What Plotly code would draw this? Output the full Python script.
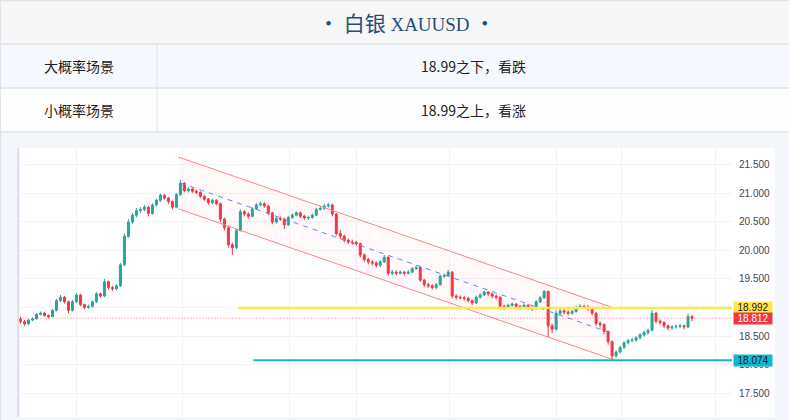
import plotly.graph_objects as go

# ---------------- data ----------------
title_text = "白银"
symbol = "XAUUSD"
row_labels = ["大概率场景", "小概率场景"]
row_values = ["18.99之下，看跌", "18.99之上，看涨"]

opens = [
18.80, 18.75, 18.71, 18.78, 18.80, 18.88, 18.90, 18.86, 18.84, 18.95,
19.12, 19.18, 19.10, 18.95, 19.10, 19.22, 19.05, 19.00, 19.02, 19.10,
19.24, 19.20, 19.45, 19.35, 19.33, 19.38, 19.75, 20.25, 20.50, 20.62,
20.70, 20.72, 20.76, 20.65, 20.80, 20.88, 20.97, 20.92, 20.86, 20.76,
20.98, 21.18, 21.05, 21.08, 21.04, 21.02, 20.95, 20.90, 20.84, 20.88,
20.82, 20.55, 20.40, 20.10, 20.05, 20.35, 20.68, 20.64, 20.60, 20.73,
20.80, 20.82, 20.78, 20.66, 20.50, 20.56, 20.55, 20.45, 20.58, 20.62,
20.66, 20.60, 20.57, 20.58, 20.62, 20.72, 20.74, 20.78, 20.80, 20.64,
20.30, 20.25, 20.18, 20.15, 20.14, 20.12, 19.92, 19.84, 19.80, 19.78,
19.74, 19.80, 19.88, 19.60, 19.62, 19.60, 19.62, 19.60, 19.62, 19.68,
19.70, 19.48, 19.40, 19.38, 19.35, 19.40, 19.55, 19.56, 19.62, 19.20,
19.18, 19.17, 19.16, 19.12, 19.08, 19.18, 19.22, 19.27, 19.24, 19.20,
19.18, 19.02, 19.00, 19.04, 19.06, 19.02, 19.00, 19.04, 19.00, 18.98,
19.10, 19.17, 19.28, 18.68, 18.62, 18.90, 18.94, 18.92, 18.90, 18.93,
19.00, 19.02, 19.01, 18.98, 18.90, 18.72, 18.70, 18.58, 18.40, 18.15,
18.22, 18.30, 18.38, 18.42, 18.43, 18.47, 18.52, 18.56, 18.60, 18.90,
18.76, 18.74, 18.68, 18.64, 18.66, 18.67, 18.68, 18.66, 18.84,
]
closes = [
18.75, 18.71, 18.78, 18.80, 18.88, 18.90, 18.86, 18.84, 18.95, 19.12,
19.18, 19.10, 18.95, 19.10, 19.22, 19.05, 19.00, 19.02, 19.10, 19.24,
19.20, 19.45, 19.35, 19.33, 19.38, 19.75, 20.25, 20.50, 20.62, 20.70,
20.72, 20.76, 20.65, 20.80, 20.88, 20.97, 20.92, 20.86, 20.76, 20.98,
21.18, 21.05, 21.08, 21.04, 21.02, 20.95, 20.90, 20.84, 20.88, 20.82,
20.55, 20.40, 20.10, 20.05, 20.35, 20.68, 20.64, 20.60, 20.73, 20.80,
20.82, 20.78, 20.66, 20.50, 20.56, 20.55, 20.45, 20.58, 20.62, 20.66,
20.60, 20.57, 20.58, 20.62, 20.72, 20.74, 20.78, 20.80, 20.64, 20.30,
20.25, 20.18, 20.15, 20.14, 20.12, 19.92, 19.84, 19.80, 19.78, 19.74,
19.80, 19.88, 19.60, 19.62, 19.60, 19.62, 19.60, 19.62, 19.68, 19.70,
19.48, 19.40, 19.38, 19.35, 19.40, 19.55, 19.56, 19.62, 19.20, 19.18,
19.17, 19.16, 19.12, 19.08, 19.18, 19.22, 19.27, 19.24, 19.20, 19.18,
19.02, 19.00, 19.04, 19.06, 19.02, 19.00, 19.04, 19.00, 18.98, 19.10,
19.17, 19.28, 18.68, 18.62, 18.90, 18.94, 18.92, 18.90, 18.93, 19.00,
19.02, 19.01, 18.98, 18.90, 18.72, 18.70, 18.58, 18.40, 18.15, 18.22,
18.30, 18.38, 18.42, 18.43, 18.47, 18.52, 18.56, 18.60, 18.90, 18.76,
18.74, 18.68, 18.64, 18.66, 18.67, 18.68, 18.66, 18.84, 18.81,
]
highs = [
18.84, 18.78, 18.80, 18.83, 18.90, 18.93, 18.92, 18.88, 18.97, 19.15,
19.22, 19.20, 19.12, 19.13, 19.25, 19.24, 19.07, 19.05, 19.12, 19.27,
19.26, 19.50, 19.47, 19.38, 19.41, 19.78, 20.30, 20.55, 20.66, 20.74,
20.76, 20.80, 20.78, 20.83, 20.91, 21.00, 20.99, 20.94, 20.88, 21.01,
21.24, 21.20, 21.11, 21.10, 21.07, 21.04, 20.97, 20.92, 20.91, 20.90,
20.84, 20.58, 20.43, 20.14, 20.38, 20.72, 20.71, 20.67, 20.76, 20.83,
20.86, 20.85, 20.80, 20.68, 20.59, 20.60, 20.58, 20.61, 20.65, 20.69,
20.68, 20.63, 20.61, 20.65, 20.75, 20.78, 20.82, 20.84, 20.82, 20.66,
20.36, 20.28, 20.21, 20.19, 20.17, 20.14, 19.95, 19.87, 19.83, 19.81,
19.83, 19.92, 19.90, 19.66, 19.65, 19.65, 19.64, 19.66, 19.71, 19.74,
19.72, 19.50, 19.43, 19.41, 19.43, 19.58, 19.60, 19.66, 19.64, 19.23,
19.21, 19.20, 19.19, 19.14, 19.21, 19.25, 19.30, 19.29, 19.26, 19.23,
19.20, 19.05, 19.07, 19.09, 19.08, 19.04, 19.07, 19.06, 19.03, 19.13,
19.20, 19.31, 19.30, 18.72, 18.95, 18.98, 18.97, 18.95, 18.96, 19.03,
19.06, 19.05, 19.04, 19.00, 18.92, 18.76, 18.72, 18.60, 18.42, 18.25,
18.33, 18.41, 18.45, 18.47, 18.50, 18.55, 18.59, 18.63, 18.96, 18.92,
18.79, 18.76, 18.70, 18.69, 18.70, 18.71, 18.70, 18.90, 18.87,
]
lows = [
18.72, 18.68, 18.70, 18.76, 18.79, 18.86, 18.84, 18.81, 18.83, 18.93,
19.10, 19.07, 18.90, 18.93, 19.08, 19.02, 18.97, 18.98, 19.00, 19.08,
19.17, 19.18, 19.31, 19.29, 19.30, 19.36, 19.72, 20.22, 20.46, 20.58,
20.66, 20.69, 20.60, 20.63, 20.77, 20.85, 20.89, 20.82, 20.72, 20.74,
20.96, 21.02, 21.02, 21.01, 20.99, 20.92, 20.87, 20.80, 20.81, 20.79,
20.50, 20.35, 20.05, 19.92, 20.02, 20.33, 20.60, 20.56, 20.58, 20.71,
20.77, 20.75, 20.62, 20.46, 20.47, 20.52, 20.38, 20.43, 20.55, 20.60,
20.57, 20.54, 20.54, 20.56, 20.60, 20.70, 20.71, 20.75, 20.60, 20.26,
20.20, 20.14, 20.11, 20.10, 20.08, 19.88, 19.80, 19.76, 19.74, 19.70,
19.71, 19.78, 19.56, 19.57, 19.57, 19.58, 19.56, 19.58, 19.60, 19.66,
19.45, 19.36, 19.34, 19.31, 19.32, 19.38, 19.52, 19.54, 19.16, 19.14,
19.14, 19.12, 19.09, 19.04, 19.06, 19.15, 19.20, 19.20, 19.16, 19.14,
18.98, 18.96, 18.98, 19.01, 18.99, 18.96, 18.97, 18.97, 18.94, 18.96,
19.08, 19.15, 18.48, 18.55, 18.60, 18.87, 18.88, 18.86, 18.87, 18.91,
18.97, 18.98, 18.94, 18.86, 18.68, 18.65, 18.53, 18.35, 18.08, 18.12,
18.19, 18.27, 18.35, 18.39, 18.40, 18.44, 18.49, 18.53, 18.58, 18.72,
18.70, 18.64, 18.60, 18.61, 18.63, 18.64, 18.62, 18.64, 18.76,
]
bar_index = list(range(len(closes)))

y_ticks = [17.5, 18.0, 18.5, 19.0, 19.5, 20.0, 20.5, 21.0, 21.5]

# drawn levels / channel (price, bar-index values)
resistance = 18.992
support = 18.074
last_price = 18.812
resistance_start = 54.5
support_start = 58.25
channel_x = [39.5, 148.5]
channel_upper = [21.64, 18.99]
channel_lower = [20.73, 18.08]
channel_mid_x = [40.0, 148.5]
channel_mid = [21.185, 18.535]

# ---------------- style / layout ----------------
W, H = 789, 420
X_RANGE = [-0.25, 178.0]
Y_RANGE = [17.079, 21.798]
GRID_X = [14, 40.5, 67.25, 84, 107.25, 134, 150.25, 173.75]
UP, DOWN = "#26a69a", "#f23645"


def px(x):
    return x / W


def py(y):
    return 1 - y / H


fig = go.Figure()

fig.add_trace(go.Scatter(x=channel_x, y=channel_lower, mode="lines",
                         line=dict(color="#f7868b", width=1), hoverinfo="skip"))
fig.add_trace(go.Scatter(x=channel_x, y=channel_upper, mode="lines",
                         line=dict(color="#f7868b", width=1), fill="tonexty",
                         fillcolor="rgba(242,54,69,0.03)", hoverinfo="skip"))
fig.add_trace(go.Scatter(x=channel_mid_x, y=channel_mid, mode="lines",
                         line=dict(color="#5b8cf2", width=1, dash="5px,5px"), hoverinfo="skip"))

fig.add_trace(go.Candlestick(
    x=bar_index, open=opens, high=highs, low=lows, close=closes,
    increasing=dict(line=dict(color=UP, width=1), fillcolor=UP),
    decreasing=dict(line=dict(color=DOWN, width=1), fillcolor=DOWN),
    whiskerwidth=0,
))

shapes = []
# header backgrounds
shapes.append(dict(type="rect", xref="paper", yref="paper", x0=0, x1=1, y0=py(44), y1=py(0),
                   fillcolor="#f7f7f7", line_width=0, layer="below"))
shapes.append(dict(type="rect", xref="paper", yref="paper", x0=0, x1=1, y0=py(88), y1=py(44),
                   fillcolor="#f5f9fe", line_width=0, layer="below"))
shapes.append(dict(type="rect", xref="paper", yref="paper", x0=0, x1=1, y0=py(132), y1=py(88),
                   fillcolor="#fdfdfd", line_width=0, layer="below"))
for yy in [0.5, 44, 88, 132]:
    shapes.append(dict(type="line", xref="paper", yref="paper", x0=0, x1=1, y0=py(yy), y1=py(yy),
                       line=dict(color="#e0e3e7", width=1.5)))
shapes.append(dict(type="line", xref="paper", yref="paper", x0=px(157), x1=px(157),
                   y0=py(132), y1=py(44), line=dict(color="#e0e3e7", width=1)))
shapes.append(dict(type="line", xref="paper", yref="paper", x0=px(0.5), x1=px(0.5),
                   y0=py(420), y1=py(0), line=dict(color="#e0e3e7", width=1)))
# chart panel
shapes.append(dict(type="rect", xref="paper", yref="paper", x0=px(18), x1=px(775),
                   y0=py(417), y1=py(148), fillcolor="white", line_width=0, layer="below"))
shapes.append(dict(type="rect", xref="paper", yref="paper", x0=px(17), x1=px(19.5),
                   y0=py(417), y1=py(148), fillcolor="#dde2ea", line_width=0, layer="below"))
# levels
shapes.append(dict(type="line", xref="x", yref="y", x0=X_RANGE[0], x1=X_RANGE[1],
                   y0=last_price, y1=last_price,
                   line=dict(color="rgba(242,54,69,0.7)", width=1, dash="1px,2px")))
shapes.append(dict(type="line", xref="x", yref="y", x0=resistance_start, x1=X_RANGE[1],
                   y0=resistance, y1=resistance, line=dict(color="#ffe94a", width=2.5)))
shapes.append(dict(type="line", xref="x", yref="y", x0=support_start, x1=X_RANGE[1],
                   y0=support, y1=support, line=dict(color="#10b9d2", width=2)))

annotations = []
annotations.append(dict(
    xref="paper", yref="paper", x=px(406), y=py(22), showarrow=False,
    text=("• " + title_text + " <span style=\"font-family:Liberation Serif;font-size:19px\">"
          + symbol + "</span> •"),
    font=dict(family="Noto Sans CJK SC", size=21, color="#1d4f7c"),
    xanchor="center", yanchor="middle"))
for i, (lab, val) in enumerate(zip(row_labels, row_values)):
    yc = 66 + 44 * i
    annotations.append(dict(xref="paper", yref="paper", x=px(78.5), y=py(yc), text=lab,
                            showarrow=False, font=dict(family="Noto Sans CJK SC", size=14, color="#222"),
                            xanchor="center", yanchor="middle"))
    annotations.append(dict(xref="paper", yref="paper", x=px(473), y=py(yc), text=val,
                            showarrow=False, font=dict(family="Noto Sans CJK SC", size=14, color="#222"),
                            xanchor="center", yanchor="middle"))

for val, bg, fg in [(resistance, "#ffe94a", "#131722"),
                    (last_price, "#f23645", "#ffffff"),
                    (support, "#10b9d2", "#131722")]:
    annotations.append(dict(xref="paper", yref="y", x=px(733), y=val, text=f"{val:.3f}",
                            showarrow=False, xanchor="left", yanchor="middle",
                            bgcolor=bg, width=38, height=11, borderpad=0,
                            font=dict(family="Liberation Sans", size=10, color=fg)))

fig.update_layout(
    width=W, height=H, autosize=False,
    margin=dict(l=0, r=0, t=0, b=0),
    paper_bgcolor="#f3f7fc", plot_bgcolor="white",
    showlegend=False,
    shapes=shapes, annotations=annotations,
    xaxis=dict(domain=[px(19.5), px(732)], range=X_RANGE, tickvals=GRID_X,
               showticklabels=False, showgrid=True, gridcolor="#f1f3f6", gridwidth=1,
               zeroline=False, showline=False, rangeslider=dict(visible=False), fixedrange=True),
    yaxis=dict(domain=[py(417), py(148)], range=Y_RANGE, side="right", tickvals=y_ticks,
               tickformat=".3f", showgrid=True, gridcolor="#f1f3f6", gridwidth=1,
               zeroline=False, showline=False, ticks="", ticklabelstandoff=6,
               tickfont=dict(family="Liberation Sans", size=10, color="#434651"), fixedrange=True),
)

fig.write_html("out.html", config={"displayModeBar": False},
               post_script="document.body.style.margin='0';document.body.style.padding='0';")
